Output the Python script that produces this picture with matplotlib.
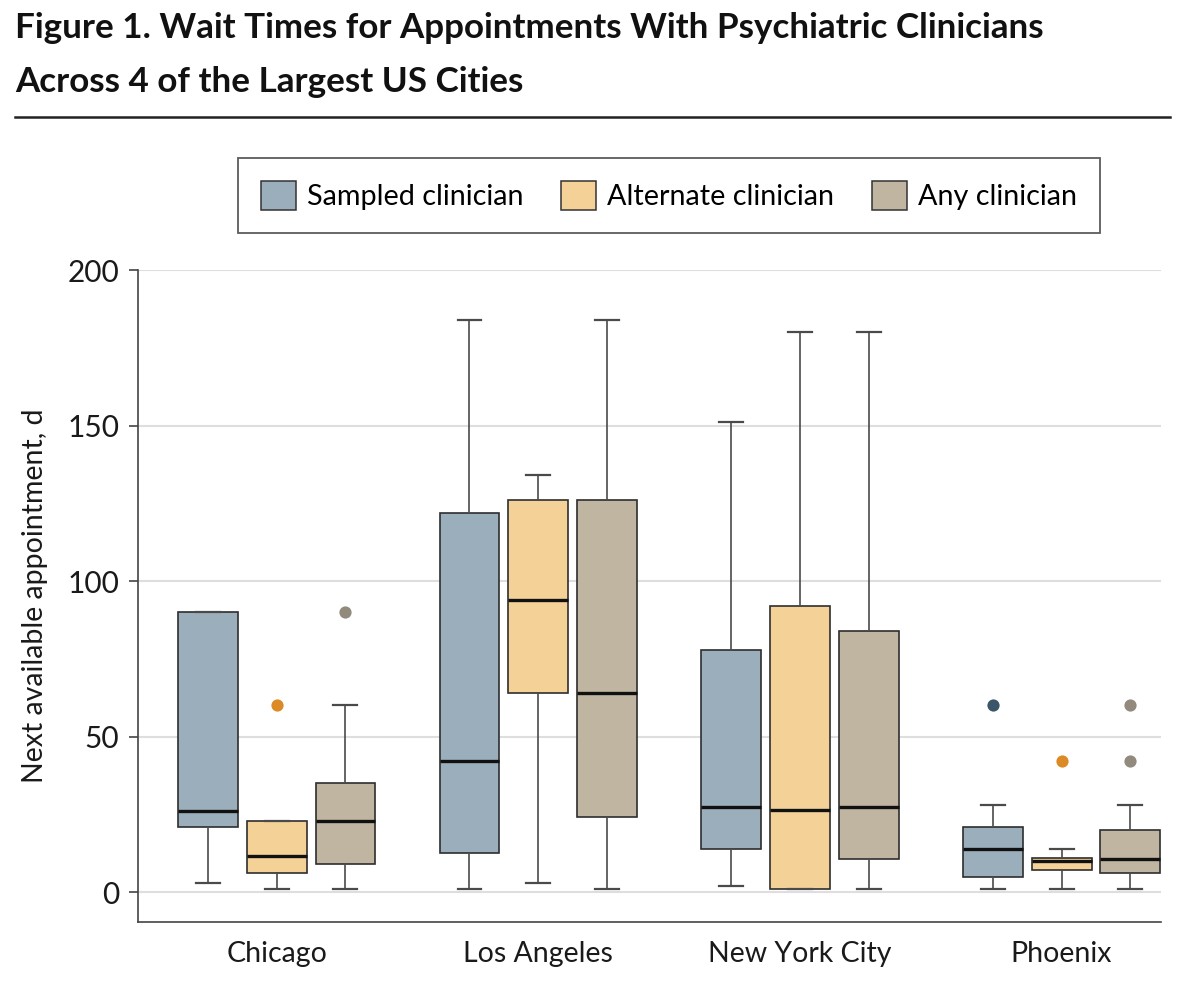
import matplotlib
matplotlib.use('Agg')
import matplotlib.pyplot as plt
from matplotlib.patches import Patch
from matplotlib.lines import Line2D
import numpy as np

plt.rcParams['font.family'] = ['Lato', 'DejaVu Sans']

cities = ['Chicago', 'Los Angeles', 'New York City', 'Phoenix']
series = ['Sampled clinician', 'Alternate clinician', 'Any clinician']

# box statistics (days)
sampled_lo = [3, 1, 2, 1]
sampled_q1 = [21, 12.5, 14, 5]
sampled_med = [26, 42, 27.5, 14]
sampled_q3 = [90, 122, 78, 21]
sampled_hi = [90, 184, 151, 28]
sampled_fliers = [[], [], [], [60]]

alt_lo = [1, 3, 1, 1]
alt_q1 = [6, 64, 1, 7]
alt_med = [11.5, 94, 26.5, 10]
alt_q3 = [23, 126, 92, 11]
alt_hi = [23, 134, 180, 14]
alt_fliers = [[60], [], [], [42]]

any_lo = [1, 1, 1, 1]
any_q1 = [9, 24, 10.5, 6]
any_med = [23, 64, 27.5, 10.5]
any_q3 = [35, 126, 84, 20]
any_hi = [60, 184, 180, 28]
any_fliers = [[90], [], [], [60, 42]]

box_colors = ['#9aafbb', '#f4d196', '#bfb5a0']
flier_colors = ['#3b5668', '#dc8a26', '#918a7d']

all_stats = [
    (sampled_lo, sampled_q1, sampled_med, sampled_q3, sampled_hi, sampled_fliers),
    (alt_lo, alt_q1, alt_med, alt_q3, alt_hi, alt_fliers),
    (any_lo, any_q1, any_med, any_q3, any_hi, any_fliers),
]

fig = plt.figure(figsize=(12, 10.01), dpi=100)
ax = fig.add_axes([138 / 1200, 1 - 922 / 1001, (1161 - 138) / 1200, (922 - 270) / 1001])

offset = 0.263
width = 0.229
x = np.arange(len(cities))

for k, (lo, q1, med, q3, hi, fl) in enumerate(all_stats):
    stats = []
    for i in range(len(cities)):
        stats.append(dict(whislo=lo[i], q1=q1[i], med=med[i], q3=q3[i],
                          whishi=hi[i], fliers=fl[i]))
    ax.bxp(stats, positions=x + (k - 1) * offset, widths=width,
           patch_artist=True, manage_ticks=False,
           boxprops=dict(facecolor=box_colors[k], edgecolor='#2e2e2e', linewidth=1.2),
           medianprops=dict(color='#111111', linewidth=2.4, solid_capstyle='butt'),
           whiskerprops=dict(color='#4a4a4a', linewidth=1.2),
           capprops=dict(color='#4a4a4a', linewidth=1.6),
           capwidths=width * 0.4,
           flierprops=dict(marker='o', markerfacecolor=flier_colors[k],
                           markeredgecolor='none', markersize=8.8),
           zorder=3)

ax.set_xlim(-0.53, 3.38)
ax.set_ylim(-9.6, 200)
ax.set_yticks([0, 50, 100, 150, 200])
ax.set_xticks(x)
ax.set_xticklabels(cities)
ax.yaxis.grid(True, color='#dedede', linewidth=1.5, zorder=0)
ax.set_axisbelow(True)
for s in ['top', 'right']:
    ax.spines[s].set_visible(False)
for s in ['left', 'bottom']:
    ax.spines[s].set_color('#444444')
    ax.spines[s].set_linewidth(1.2)
ax.tick_params(axis='y', labelsize=21.5, length=6.5, width=1.2, color='#444444', pad=7,
               labelcolor='#1a1a1a')
ax.tick_params(axis='x', labelsize=20.5, length=0, pad=14, labelcolor='#1a1a1a')
ax.set_ylabel('Next available appointment, d', fontsize=20.5, color='#1a1a1a', labelpad=14)

handles = [Patch(facecolor=c, edgecolor='#333333', linewidth=1.1) for c in box_colors]
leg = ax.legend(handles, series, loc='upper left', ncol=3,
                bbox_to_anchor=(238 / 1200, 1 - 158 / 1001), bbox_transform=fig.transFigure,
                fontsize=20.7, frameon=True, fancybox=False, edgecolor='#333333',
                handlelength=1.2, handleheight=1.2, handletextpad=0.4,
                columnspacing=1.32, borderpad=0.8, borderaxespad=0)
leg.get_frame().set_linewidth(1.3)

fig.text(15 / 1200, 1 - 38 / 1001, 'Figure 1. Wait Times for Appointments With Psychiatric Clinicians',
         fontsize=25.2, fontweight='bold', color='#111111', va='baseline', ha='left')
fig.text(15 / 1200, 1 - 92 / 1001, 'Across 4 of the Largest US Cities',
         fontsize=25.2, fontweight='bold', color='#111111', va='baseline', ha='left')
fig.add_artist(Line2D([15 / 1200, 1170 / 1200], [1 - 117 / 1001, 1 - 117 / 1001],
                      transform=fig.transFigure, color='#222222', linewidth=1.8))

fig.savefig('out.png', dpi=100, facecolor='white')
